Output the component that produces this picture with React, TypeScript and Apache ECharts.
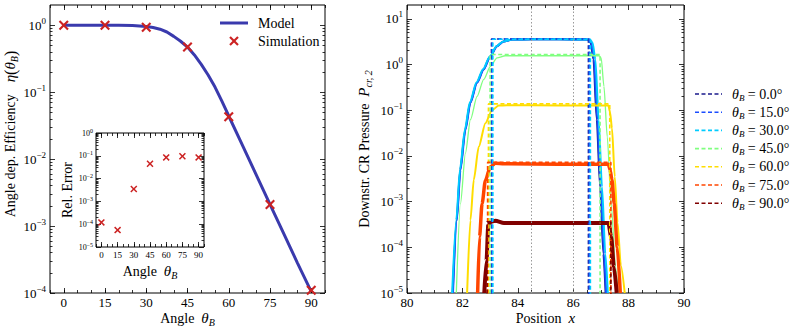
import React, { useEffect, useRef } from 'react';
import * as echarts from 'echarts';

const FONT = '"Liberation Serif", "Times New Roman", serif';

// ---------- Left panel data ----------
const angles = [0, 15, 30, 45, 60, 75, 90];
const simEfficiency = [1.0, 1.0, 0.93, 0.47, 0.043, 0.0021, 0.00011];
const relError = [1.2e-4, 5.5e-5, 3.5e-3, 4.5e-2, 8.5e-2, 9.5e-2, 8.5e-2];
const modelAngles = [0, 5, 10, 15, 20, 25, 27.5, 30, 32.5, 35, 37.5, 40, 42.5, 45, 47.5, 50, 52.5, 55, 57.5, 60, 65, 70, 75, 80, 85, 90];
const modelEfficiency = [1, 1, 1, 0.998, 0.995, 0.985, 0.975, 0.955, 0.92, 0.87, 0.79, 0.68, 0.575, 0.47, 0.359, 0.26, 0.18, 0.119, 0.0733, 0.044, 0.016, 0.0058, 0.0021, 0.00077, 0.00028, 0.000105];

const effTicks = [1e-4, 1e-3, 1e-2, 1e-1, 1];
const errTicks = [1e-5, 1e-4, 1e-3, 1e-2, 1e-1, 1];
const pressTicks = [1e-5, 1e-4, 1e-3, 1e-2, 1e-1, 1, 10];

// ---------- Right panel data ----------
const thetaNames = ['0.0', '15.0', '30.0', '45.0', '60.0', '75.0', '90.0'];
const modelStart = [83.05, 83.07, 83.1, 83.0, 82.94, 82.91, 82.89];
const modelEnd = [86.55, 86.58, 86.62, 86.97, 87.32, 87.36, 87.36];
const modelLevel = [3.6, 3.6, 3.55, 1.65, 0.137, 0.0072, 0.00036];

const sim0 = [[81.65, 1e-5], [81.79, 3.9e-4], [81.92, 4.9e-3], [82.1, 0.037], [82.28, 0.145], [82.52, 0.4], [82.76, 0.78], [83.0, 1.5], [83.24, 2.5], [83.48, 3.2], [83.8, 3.5], [84.5, 3.55], [85.5, 3.55], [86.53, 3.5], [86.63, 3.0], [86.73, 1.3], [86.85, 0.062], [86.97, 2.1e-3], [87.09, 7.2e-5], [87.17, 1e-5]];
const sim15 = [[81.66, 1e-5], [81.8, 3.9e-4], [81.93, 4.9e-3], [82.11, 0.037], [82.29, 0.145], [82.53, 0.4], [82.77, 0.78], [83.01, 1.5], [83.25, 2.5], [83.49, 3.2], [83.8, 3.5], [84.5, 3.55], [85.5, 3.55], [86.55, 3.5], [86.65, 3.0], [86.75, 1.3], [86.87, 0.062], [86.99, 2.1e-3], [87.11, 7.2e-5], [87.19, 1e-5]];
const sim30 = [[81.63, 1e-5], [81.78, 4e-4], [81.91, 5e-3], [82.09, 0.038], [82.27, 0.15], [82.51, 0.41], [82.75, 0.8], [82.99, 1.5], [83.23, 2.5], [83.47, 3.2], [83.8, 3.5], [84.5, 3.55], [85.5, 3.55], [86.6, 3.5], [86.7, 3.0], [86.8, 1.3], [86.92, 0.062], [87.04, 2.1e-3], [87.16, 7.2e-5], [87.25, 1e-5]];
const sim45 = [[81.78, 1e-5], [81.93, 9e-4], [82.11, 0.0115], [82.29, 0.062], [82.53, 0.2], [82.77, 0.47], [83.01, 0.91], [83.25, 1.4], [83.55, 1.55], [85.0, 1.55], [86.93, 1.55], [87.01, 1.4], [87.11, 0.33], [87.23, 0.026], [87.37, 9e-4], [87.53, 3.7e-5], [87.62, 1e-5]];
const sim60 = [[82.17, 1e-5], [82.29, 3.9e-4], [82.41, 3e-3], [82.59, 0.0158], [82.83, 0.052], [83.07, 0.1], [83.31, 0.126], [83.6, 0.128], [85.5, 0.127], [87.27, 0.126], [87.33, 0.09], [87.4, 0.04], [87.5, 3.5e-3], [87.6, 3.5e-4], [87.72, 4e-5], [87.86, 1e-5]];
const sim75 = [[82.55, 1e-5], [82.62, 1.7e-4], [82.71, 9e-4], [82.83, 2.9e-3], [83.01, 5.8e-3], [83.19, 6.9e-3], [83.5, 6.7e-3], [85.5, 6.6e-3], [87.27, 6.6e-3], [87.33, 5e-3], [87.4, 3e-3], [87.48, 9e-4], [87.59, 1e-4], [87.7, 1e-5]];
const sim90 = [[82.79, 1e-5], [82.87, 5e-5], [82.93, 2.8e-4], [83.01, 3.6e-4], [83.19, 3.8e-4], [83.5, 3.4e-4], [85.5, 3.4e-4], [87.27, 3.4e-4], [87.37, 1.7e-4], [87.47, 3.7e-5], [87.57, 1e-5]];
const simCurves = [sim0, sim15, sim30, sim45, sim60, sim75, sim90];
const regionMarkers = [84.5, 86];

// ---------- styles ----------
const thetaColors = ['#1a1a8c', '#1a4dff', '#00ccff', '#80ff80', '#ffdd00', '#ff4500', '#800000'];
const simWidths = [2, 2, 2, 1.3, 2, 3.5, 4];
const MODEL_BLUE = '#3a3aad';
const CROSS_RED = '#cc2222';
const CROSS = 'path://M0,1.5 L1.5,0 L5,3.5 L8.5,0 L10,1.5 L6.5,5 L10,8.5 L8.5,10 L5,6.5 L1.5,10 L0,8.5 L3.5,5 Z';
const tickLine = { color: '#000', width: 0.8 };

function minorTicks(lo: number, hi: number) {
  const out: number[] = [];
  for (let e = Math.floor(Math.log10(lo)); e <= Math.ceil(Math.log10(hi)); e++) {
    for (let k = 2; k <= 9; k++) {
      const v = k * Math.pow(10, e);
      if (v > lo && v < hi) out.push(v);
    }
  }
  return out;
}

function logLabel(v: number) {
  const e = Math.round(Math.log10(v));
  return `{b|10}{s|${e < 0 ? '\u2212' + -e : e}}`;
}

const bigRich = {
  b: { fontSize: 13, lineHeight: 18, fontFamily: FONT, color: '#000' },
  s: { fontSize: 9, lineHeight: 10, verticalAlign: 'top', fontFamily: FONT, color: '#000' },
};
const smallRich = {
  b: { fontSize: 8, lineHeight: 11, fontFamily: FONT, color: '#000' },
  s: { fontSize: 6, lineHeight: 6, verticalAlign: 'top', fontFamily: FONT, color: '#000' },
};
const nameRich = {
  i: { fontStyle: 'italic', fontSize: 15, lineHeight: 18, fontFamily: FONT, color: '#000' },
  m: { fontSize: 16, lineHeight: 18, fontFamily: FONT, color: '#000' },
  g: { width: 12, lineHeight: 18 },
  s: { fontStyle: 'italic', fontSize: 10, lineHeight: 11, verticalAlign: 'bottom', fontFamily: FONT, color: '#000' },
};

function base(grid: number, position: string, extra: any) {
  return {
    gridIndex: grid,
    position,
    axisLine: { show: false, onZero: false },
    splitLine: { show: false },
    axisLabel: { show: false },
    nameMoveOverlap: false,
    ...extra,
  };
}

function frameX(grid: number, range: any, majors: number[], minorInterval: number, label: any) {
  const major = { axisTick: { inside: true, length: 5, customValues: majors, lineStyle: tickLine } };
  const minor = { interval: minorInterval, axisTick: { inside: true, length: 3, lineStyle: tickLine } };
  return [
    base(grid, 'bottom', { type: 'value', ...range, ...major, ...label }),
    base(grid, 'top', { type: 'value', ...range, ...major }),
    base(grid, 'bottom', { type: 'value', ...range, ...minor }),
    base(grid, 'top', { type: 'value', ...range, ...minor }),
  ];
}

function frameY(grid: number, min: number, max: number, majors: number[], label: any) {
  const range = { type: 'log', min, max };
  const minors = minorTicks(min, max);
  const major = { axisTick: { inside: true, length: 5, customValues: majors, lineStyle: tickLine } };
  const minor = { axisTick: { inside: true, length: 2.5, customValues: minors, lineStyle: tickLine } };
  return [
    base(grid, 'left', { ...range, ...major, ...label }),
    base(grid, 'right', { ...range, ...major }),
    base(grid, 'left', { ...range, ...minor }),
    base(grid, 'right', { ...range, ...minor }),
  ];
}

function buildOption() {
  const xAxis: any[] = [
    ...frameX(0, { min: -5, max: 95 }, angles, 5, {
      axisLabel: { show: true, customValues: angles, fontSize: 13, fontFamily: FONT, color: '#000', margin: 3 },
      name: 'Angle  {i|θ}{s|B}', nameLocation: 'middle', nameGap: 16,
      nameTextStyle: { fontSize: 14, fontFamily: FONT, color: '#000', lineHeight: 18, rich: nameRich },
    }),
    ...frameX(1, { min: -5, max: 95 }, angles, 5, {
      axisLabel: { show: true, customValues: angles, fontSize: 9, fontFamily: FONT, color: '#000', margin: 3 },
      name: 'Angle  {i|θ}{s|B}', nameLocation: 'middle', nameGap: 15,
      nameTextStyle: { fontSize: 14, fontFamily: FONT, color: '#000', lineHeight: 18, rich: nameRich },
    }),
    base(2, 'bottom', {
      type: 'value', min: 80, max: 90, interval: 2,
      axisTick: { inside: true, length: 5, lineStyle: tickLine },
      minorTick: { show: true, splitNumber: 4, length: 3, lineStyle: tickLine },
      axisLabel: { show: true, fontSize: 13, fontFamily: FONT, color: '#000', margin: 3 },
      name: 'Position  {i|x}', nameLocation: 'middle', nameGap: 16,
      nameTextStyle: { fontSize: 14, fontFamily: FONT, color: '#000', lineHeight: 18, rich: nameRich },
    }),
    base(2, 'top', {
      type: 'value', min: 80, max: 90, interval: 2,
      axisTick: { inside: true, length: 5, lineStyle: tickLine },
      minorTick: { show: true, splitNumber: 4, length: 3, lineStyle: tickLine },
    }),
  ];

  const yAxis: any[] = [
    ...frameY(0, 1e-4, 2, effTicks, {
      axisLabel: { show: true, customValues: effTicks, formatter: logLabel, margin: 4, rich: bigRich },
      name: 'Angle dep. Efficiency{g|}{i|η}{m|(}{i|θ}{s|B}{m|)}', nameLocation: 'middle', nameGap: 31,
      nameTextStyle: { fontSize: 14, fontFamily: FONT, color: '#000', lineHeight: 18, rich: nameRich, padding: [0, 0, 0, 30] },
    }),
    ...frameY(1, 1e-5, 1, errTicks, {
      axisLabel: { show: true, customValues: errTicks, formatter: logLabel, margin: 3, rich: smallRich },
      name: 'Rel. Error', nameLocation: 'middle', nameGap: 22,
      nameTextStyle: { fontSize: 14, fontFamily: FONT, color: '#000' },
    }),
    ...frameY(2, 1e-5, 20, pressTicks, {
      axisLabel: { show: true, customValues: pressTicks, formatter: logLabel, margin: 4, rich: bigRich },
      name: 'Downstr. CR Pressure  {i|P}{s|cr, 2}', nameLocation: 'middle', nameGap: 34,
      nameTextStyle: { fontSize: 14, fontFamily: FONT, color: '#000', lineHeight: 18, rich: nameRich },
    }),
  ];

  const series: any[] = [
    {
      type: 'line', xAxisIndex: 0, yAxisIndex: 0, name: 'Model',
      data: modelAngles.map((a, i) => [a, modelEfficiency[i]]),
      showSymbol: false, smooth: false,
      lineStyle: { color: MODEL_BLUE, width: 3 }, z: 2,
    },
    {
      type: 'scatter', xAxisIndex: 0, yAxisIndex: 0, name: 'Simulation',
      data: angles.map((a, i) => [a, simEfficiency[i]]),
      symbol: CROSS, symbolSize: 10, itemStyle: { color: CROSS_RED, opacity: 1 }, z: 3,
    },
    {
      type: 'scatter', xAxisIndex: 4, yAxisIndex: 4,
      data: angles.map((a, i) => [a, relError[i]]),
      symbol: CROSS, symbolSize: 7, itemStyle: { color: CROSS_RED, opacity: 1 }, z: 10,
    },
    {
      type: 'line', xAxisIndex: 8, yAxisIndex: 8, data: [], z: 1,
      markLine: {
        silent: true, symbol: ['none', 'none'], label: { show: false },
        lineStyle: { color: '#9a9a9a', type: [1.5, 2], width: 1 },
        data: regionMarkers.map((x) => ({ xAxis: x })),
      },
    },
  ];

  simCurves.forEach((pts, i) => {
    series.push({
      type: 'line', xAxisIndex: 8, yAxisIndex: 8, name: 'sim' + i,
      data: pts, showSymbol: false, smooth: 0.25, smoothMonotone: 'x',
      lineStyle: { color: thetaColors[i], width: simWidths[i] }, z: 2 + i * 0.01,
    });
  });
  thetaNames.forEach((n, i) => {
    series.push({
      type: 'line', xAxisIndex: 8, yAxisIndex: 8, name: n,
      data: [[modelStart[i], 1e-7], [modelStart[i], modelLevel[i]], [modelEnd[i], modelLevel[i]], [modelEnd[i], 1e-7]],
      showSymbol: false, symbol: 'none',
      lineStyle: { color: thetaColors[i], width: 1.6, type: [4, 2.5] },
      z: 3 + i * 0.01,
    });
  });

  const legendRich = {
    i: { fontStyle: 'italic', fontSize: 14, lineHeight: 16, fontFamily: FONT, fill: '#000' },
    s: { fontStyle: 'italic', fontSize: 9, lineHeight: 10, verticalAlign: 'bottom', fontFamily: FONT, fill: '#000' },
    n: { fontSize: 14, lineHeight: 16, fontFamily: FONT, fill: '#000' },
  };
  const legendGraphics: any[] = [];
  thetaNames.forEach((n, i) => {
    const y = 94 + i * 18.2;
    legendGraphics.push({
      type: 'line', shape: { x1: 695, y1: y, x2: 722, y2: y },
      style: { stroke: thetaColors[i], lineWidth: 1.6, lineDash: [4, 2.5] },
    });
    legendGraphics.push({
      type: 'text', x: 732, y,
      style: { text: `{i|θ}{s|B}{n| = ${n}°}`, rich: legendRich, verticalAlign: 'middle', fill: '#000', font: `14px ${FONT}` },
    });
  });

  const gridBase = { show: true, borderColor: '#000', borderWidth: 1, outerBoundsMode: 'none', containLabel: false };
  return {
    animation: false,
    backgroundColor: '#fff',
    grid: [
      { ...gridBase, left: 50, top: 5, width: 275, height: 288, backgroundColor: 'transparent' },
      { ...gridBase, left: 96, top: 133, width: 108, height: 114, backgroundColor: '#fff' },
      { ...gridBase, left: 407, top: 5, width: 277, height: 288, backgroundColor: 'transparent' },
    ],
    xAxis,
    yAxis,
    series,
    graphic: [
      { type: 'line', shape: { x1: 220, y1: 23, x2: 248, y2: 23 }, style: { stroke: MODEL_BLUE, lineWidth: 3 } },
      { type: 'text', x: 258, y: 23, style: { text: 'Model', font: `14px ${FONT}`, fill: '#000', verticalAlign: 'middle' } },
      { type: 'line', shape: { x1: 230, y1: 37, x2: 238, y2: 45 }, style: { stroke: CROSS_RED, lineWidth: 2.2 } },
      { type: 'line', shape: { x1: 238, y1: 37, x2: 230, y2: 45 }, style: { stroke: CROSS_RED, lineWidth: 2.2 } },
      { type: 'text', x: 258, y: 41, style: { text: 'Simulation', font: `14px ${FONT}`, fill: '#000', verticalAlign: 'middle' } },
      ...legendGraphics,
    ],
  };
}

export default function App() {
  const ref = useRef<HTMLDivElement>(null);
  useEffect(() => {
    if (!ref.current) return;
    const chart = echarts.init(ref.current, undefined, { renderer: 'svg' });
    chart.setOption(buildOption() as any);
    return () => chart.dispose();
  }, []);
  return (
    <div
      ref={ref}
      style={{ position: 'fixed', left: 0, top: 0, width: 797, height: 330, background: '#fff' }}
    />
  );
}
